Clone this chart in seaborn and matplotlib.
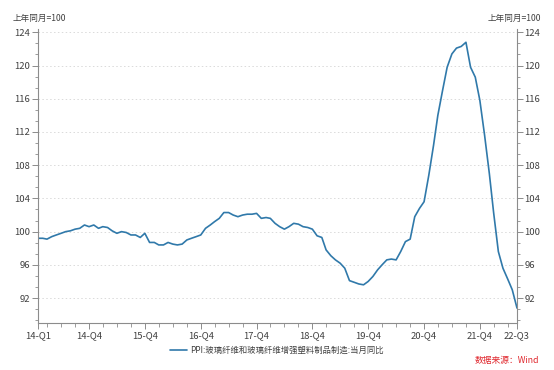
#!/usr/bin/env python3
import matplotlib
matplotlib.use('Agg')
import matplotlib.pyplot as plt
import matplotlib.dates as mdates
from matplotlib.ticker import MultipleLocator
import numpy as np
import pandas as pd
import seaborn as sns

sns.set_theme(context='paper', style='white')
plt.rcParams['font.family'] = ['Noto Sans CJK SC', 'DejaVu Sans']
plt.rcParams['axes.unicode_minus'] = False

# monthly values, Jan 2014 .. Aug 2022 (上年同月=100)
start_month = '2014-01'
ppi_values = [
    99.2, 99.2, 99.1, 99.4, 99.6, 99.8, 100.0, 100.1, 100.3, 100.4, 100.8, 100.6,
    100.8, 100.4, 100.6, 100.5, 100.1, 99.8, 100.0, 99.9, 99.6, 99.6, 99.3, 99.8,
    98.7, 98.7, 98.4, 98.4, 98.7, 98.5, 98.4, 98.5, 99.0, 99.2, 99.4, 99.6,
    100.4, 100.8, 101.2, 101.6, 102.3, 102.3, 102.0, 101.8, 102.0, 102.1, 102.1, 102.2,
    101.6, 101.7, 101.6, 101.0, 100.6, 100.3, 100.6, 101.0, 100.9, 100.6, 100.5, 100.3,
    99.5, 99.3, 97.8, 97.1, 96.6, 96.2, 95.6, 94.1, 93.9, 93.7, 93.6, 94.0,
    94.6, 95.4, 96.0, 96.6, 96.7, 96.6, 97.6, 98.8, 99.1, 101.8, 102.8, 103.6,
    106.8, 110.4, 114.0, 117.0, 119.8, 121.4, 122.1, 122.3, 122.8, 119.8, 118.6, 115.8,
    111.6, 107.0, 102.3, 97.6, 95.6, 94.3, 93.0, 90.8,
]
tick_months = ['2014-01', '2014-12', '2015-12', '2016-12', '2017-12',
               '2018-12', '2019-12', '2020-12', '2021-12', '2022-08']
tick_labels = ['14-Q1', '14-Q4', '15-Q4', '16-Q4', '17-Q4',
               '18-Q4', '19-Q4', '20-Q4', '21-Q4', '22-Q3']
y_ticks = [92, 96, 100, 104, 108, 112, 116, 120, 124]
series_name = 'PPI:玻璃纤维和玻璃纤维增强塑料制品制造:当月同比'

df = pd.DataFrame({
    'month': pd.date_range(start_month, periods=len(ppi_values), freq='MS'),
    'value': ppi_values,
})

LINE = '#3079aa'
AXC = '#8c8c8c'
TXT = '#404040'

fig = plt.figure(figsize=(5.54, 3.70), dpi=100)
ax = fig.add_axes([38 / 554, 1 - 323 / 370, (517 - 38) / 554, (323 - 29) / 370])

sns.lineplot(data=df, x='month', y='value', ax=ax, color=LINE, linewidth=1.2,
             label=series_name, legend=False)

ax.set_xlim(df['month'].iloc[0], df['month'].iloc[-1])
ax.set_ylim(89.0, 124.4)
ax.set_xticks(pd.to_datetime(tick_months))
ax.set_xticklabels(tick_labels)
ax.xaxis.set_minor_locator(mdates.MonthLocator(bymonth=[3, 6, 9, 12]))
ax.set_yticks(y_ticks)
ax.yaxis.set_minor_locator(MultipleLocator(4 / 3))
ax.set_xlabel('')
ax.set_ylabel('')

ax.grid(axis='y', which='major', color='#dadada', linestyle=(0, (1.5, 2.5)), linewidth=0.7)
ax.set_axisbelow(True)

for side in ['left', 'right', 'bottom']:
    ax.spines[side].set_color(AXC)
    ax.spines[side].set_linewidth(0.8)
ax.spines['top'].set_visible(False)

ax.yaxis.set_ticks_position('both')
ax.tick_params(axis='y', which='both', direction='out', left=True, right=True,
               labelleft=True, labelright=True, colors=AXC, labelcolor=TXT,
               labelsize=6.8, pad=1.5)
ax.tick_params(axis='y', which='major', length=4, width=0.7)
ax.tick_params(axis='y', which='minor', length=2.5, width=0.6)
ax.tick_params(axis='x', which='both', direction='out', bottom=True, colors=AXC,
               labelcolor=TXT, labelsize=6.8, pad=2)
ax.tick_params(axis='x', which='major', length=4, width=0.7)
ax.tick_params(axis='x', which='minor', length=3, width=0.6)

fig.text(13 / 554, 1 - 18 / 370, '上年同月=100', fontsize=6.2, color=TXT,
         ha='left', va='center')
fig.text(541 / 554, 1 - 18 / 370, '上年同月=100', fontsize=6.2, color=TXT,
         ha='right', va='center')

fig.legend(loc='center', bbox_to_anchor=(277 / 554, 1 - 350 / 370), frameon=False,
           fontsize=6.0, handlelength=2.0, handletextpad=0.4,
           labelcolor=TXT)

fig.text(539 / 554, 1 - 361 / 370, '数据来源：Wind', fontsize=6.3, color='#e0282e',
         ha='right', va='center')

fig.savefig('out.png', dpi=100)
